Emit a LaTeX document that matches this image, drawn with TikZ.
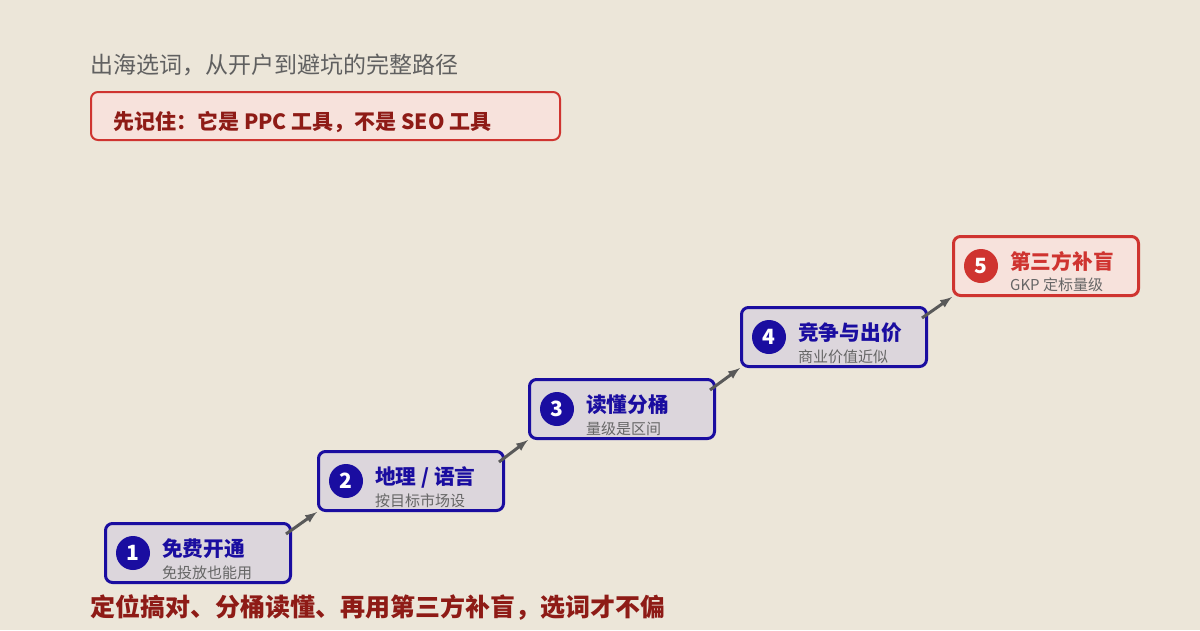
\documentclass[tikz,border=0pt]{standalone}
\usepackage{fontspec}
\setmainfont{Noto Sans CJK SC}
\usetikzlibrary{calc}
\definecolor{bgc}{HTML}{ECE6D9}
\definecolor{stepblue}{HTML}{1A0DA0}
\definecolor{stepred}{HTML}{CF3430}
\definecolor{darkred}{HTML}{8E1B16}
\definecolor{boxfill}{HTML}{DCD6DC}
\definecolor{pinkfill}{HTML}{F7E2DC}
\tikzset{
  stepbox/.style={draw=stepblue, line width=3pt, rounded corners=7pt, fill=boxfill, minimum width=185pt, minimum height=59pt},
  redbox/.style={stepbox, draw=stepred, fill=pinkfill},
  badge/.style={circle, fill=#1, text=white, minimum size=34pt, inner sep=0pt, font=\fontsize{21}{21}\selectfont\bfseries},
  steptitle/.style={anchor=west, inner sep=0pt, font=\fontsize{20.7}{21}\selectfont\bfseries},
  stepsub/.style={anchor=west, inner sep=0pt, text=gray!80!black, font=\fontsize{15}{15}\selectfont},
  link/.style={-latex, line width=3pt, draw=gray!70!black}
}
\begin{document}
\begin{tikzpicture}[x=1pt,y=-1pt]
    \fill[bgc] (0,0) rectangle (1200,630);
    \useasboundingbox (0,0) rectangle (1200,630);

    %heading
    \node[anchor=west, inner sep=0pt, text=gray!75!black, font=\fontsize{23}{23}\selectfont] (head) at (90,65) {出海选词，从开户到避坑的完整路径};
    \draw[draw=stepred, line width=2pt, fill=pinkfill, rounded corners=7pt] (91,92) rectangle (560,140);
    \node[anchor=west, inner sep=0pt, text=darkred, font=\fontsize{21}{21}\selectfont\bfseries] (note) at (113,122) {先记住：它是 PPC 工具，不是 SEO 工具};

    %steps
    \foreach \i/\x/\y/\t/\s in {1/104/522/免费开通/免投放也能用, 2/317/450/{地理 / 语言}/按目标市场设, 3/528/378/读懂分桶/量级是区间, 4/740/306/竞争与出价/商业价值近似}{
      \node[stepbox, anchor=north west] (s\i) at (\x,\y) {};
      \node[badge=stepblue] (b\i) at ($(s\i.west)+(29,0)$) {\i};
      \node[steptitle, text=stepblue] (t\i) at ($(s\i.west)+(58,-4)$) {\t};
      \node[stepsub] (u\i) at ($(s\i.west)+(58,20)$) {\s};
    }
    \node[redbox, anchor=north west] (s5) at (952,235) {};
    \node[badge=stepred] (b5) at ($(s5.west)+(29,0)$) {5};
    \node[steptitle, text=stepred] (t5) at ($(s5.west)+(58,-4)$) {第三方补盲};
    \node[stepsub] (u5) at ($(s5.west)+(58,19)$) {GKP 定标量级};

    %links
    \foreach \a/\b in {1/2,2/3,3/4,4/5}{
      \coordinate (p\a) at ($(s\a.north east)+(-6,12)$);
      \draw[link] (p\a) -- (s\b.south west);
    }

    %footer
    \node[anchor=west, inner sep=0pt, text=darkred, font=\fontsize{25}{25}\selectfont\bfseries] (foot) at (90,608) {定位搞对、分桶读懂、再用第三方补盲，选词才不偏};
\end{tikzpicture}
\end{document}
